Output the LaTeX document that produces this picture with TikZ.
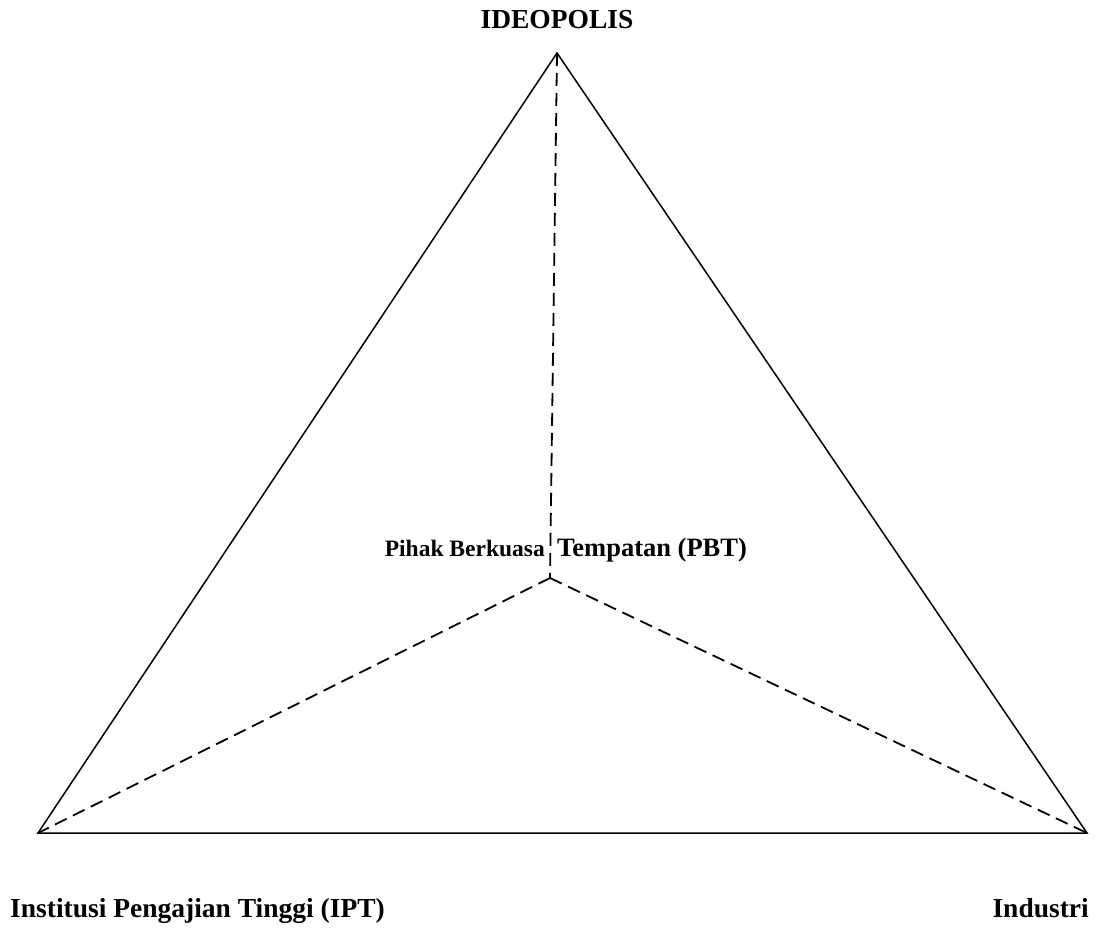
\documentclass[tikz,border=0pt]{standalone}
\usepackage{fontspec}
\setmainfont{Liberation Serif}
\begin{document}
\begin{tikzpicture}[x=1pt,y=-1pt,
  edge/.style={line width=1.5pt},
  dashedge/.style={line width=1.8pt,dash pattern=on 13pt off 7pt},
  lbl/.style={inner sep=0pt,font=\bfseries\fontsize{27.5}{31}\selectfont}]
\useasboundingbox (0,0) rectangle (1105,932);
\coordinate (A) at (557,53);
\coordinate (L) at (38,833);
\coordinate (R) at (1087,833);
\coordinate (C) at (550,578);
\draw[edge,line join=miter] (A) -- (L) -- (R) -- cycle;
\draw[dashedge] (A) -- (C);
\draw[dashedge] (C) -- (L);
\draw[dashedge] (C) -- (R);
\node[lbl,anchor=base] (ideo) at (557,28) {IDEOPOLIS};
\node[lbl,anchor=base west] (ipt) at (10,917) {Institusi Pengajian Tinggi (IPT)};
\node[lbl,anchor=base east] (ind) at (1089,917) {Industri};
\node[inner sep=0pt,font=\bfseries\fontsize{26.5}{30}\selectfont,anchor=base west] (temp) at (557,556) {Tempatan (PBT)};
\node[inner sep=0pt,font=\bfseries\fontsize{23.5}{27}\selectfont,anchor=base east] (pihak) at (545,556) {Pihak Berkuasa};
\end{tikzpicture}
\end{document}
